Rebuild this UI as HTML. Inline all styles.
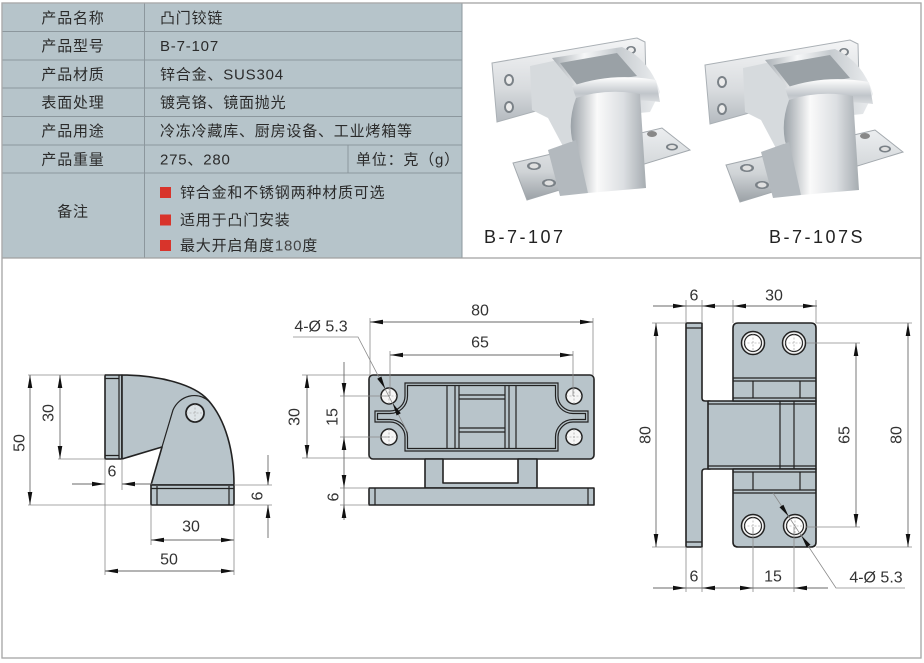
<!DOCTYPE html>
<html><head><meta charset="utf-8">
<style>
html,body{margin:0;padding:0;background:#fff;}
svg{display:block;}
.t{font-family:"Liberation Sans","Noto Sans CJK SC",sans-serif;fill:#2b2b2b;font-size:15px;letter-spacing:0.8px;}
.d{font-family:"Liberation Sans",sans-serif;fill:#333;font-size:16px;}
.ext{stroke:#8a8a8a;stroke-width:0.8;fill:none;}
.dim{stroke:#6a6a6a;stroke-width:0.9;fill:none;}
.ol{stroke:#222;stroke-width:1.6;fill:#b8c4ca;stroke-linejoin:round;}
.ln{stroke:#222;stroke-width:1.2;fill:none;}
.ar{fill:#111;}
.ch{stroke:#999;stroke-width:0.6;stroke-dasharray:2 1.5;fill:none;}
</style></head>
<body>
<svg width="924" height="663" viewBox="0 0 924 663" xmlns="http://www.w3.org/2000/svg">
<defs>
<linearGradient id="gPlate" x1="0" y1="0" x2="0" y2="1">
<stop offset="0" stop-color="#f4f5f6"/><stop offset="0.6" stop-color="#d8dbde"/><stop offset="1" stop-color="#b4babf"/>
</linearGradient>
<linearGradient id="gArch" x1="0" y1="0" x2="1" y2="0">
<stop offset="0" stop-color="#a9afb4"/><stop offset="0.3" stop-color="#f6f7f8"/><stop offset="0.6" stop-color="#c6cbcf"/><stop offset="1" stop-color="#eceef0"/>
</linearGradient>
<linearGradient id="gLeg" x1="0" y1="0" x2="1" y2="0">
<stop offset="0" stop-color="#9aa1a7"/><stop offset="0.35" stop-color="#fafafa"/><stop offset="0.7" stop-color="#dcdfe2"/><stop offset="1" stop-color="#a6acb1"/>
</linearGradient>
<linearGradient id="gBase" x1="0" y1="0" x2="0" y2="1">
<stop offset="0" stop-color="#eceef0"/><stop offset="0.6" stop-color="#d0d4d7"/><stop offset="1" stop-color="#9ba1a6"/>
</linearGradient>
<linearGradient id="gKn" x1="0" y1="0" x2="0" y2="1">
<stop offset="0" stop-color="#ffffff"/><stop offset="0.5" stop-color="#c0c5ca"/><stop offset="1" stop-color="#f2f3f4"/>
</linearGradient>
<g id="hinge">
  <polygon points="492,63 637,38 645,42 646,80 497,122" fill="url(#gPlate)" stroke="#aab0b5" stroke-width="1"/>
  <ellipse cx="509" cy="80" rx="5" ry="6" fill="#7a8187"/><ellipse cx="509" cy="80" rx="3" ry="4" fill="#ececec"/>
  <ellipse cx="509" cy="107" rx="5" ry="6" fill="#7a8187"/><ellipse cx="509" cy="107" rx="3" ry="4" fill="#ececec"/>
  <ellipse cx="631" cy="50" rx="5" ry="4" fill="#7a8187"/><ellipse cx="631" cy="50" rx="3" ry="2.5" fill="#eee"/>
  <polygon points="530,66 558,60 578,88 580,130 565,150 548,118 532,110" fill="#d6dadd"/>
  <path d="M552,58 L622,47 Q650,60 660,92 L650,112 L585,118 L575,86 Z" fill="url(#gArch)"/>
  <polygon points="560,63 617,53 637,76 578,86" fill="#9aa1a6"/>
  <polygon points="513,163 662,128 690,150 527,200" fill="url(#gBase)" stroke="#a3a9ae" stroke-width="1"/>
  <ellipse cx="534" cy="166" rx="7" ry="4" fill="#7a8187"/><ellipse cx="534" cy="166" rx="4.5" ry="2.5" fill="#e0e0e0"/>
  <ellipse cx="549" cy="183" rx="7" ry="4" fill="#7a8187"/><ellipse cx="549" cy="183" rx="4.5" ry="2.5" fill="#e0e0e0"/>
  <ellipse cx="652" cy="134" rx="5" ry="3" fill="#888"/>
  <ellipse cx="672" cy="147" rx="6" ry="3.5" fill="#7a8187"/><ellipse cx="672" cy="147" rx="4" ry="2" fill="#e0e0e0"/>
  <path d="M572,86 Q612,72 656,80 L660,102 Q618,96 580,110 Z" fill="url(#gKn)"/>
  <path d="M576,98 Q606,88 640,94 L646,188 L588,193 L575,150 Q566,125 576,98 Z" fill="url(#gLeg)"/>
  <path d="M548,150 L576,140 L588,193 L560,196 Z" fill="#b3b9be"/>
</g>
</defs>

<!-- outer frame -->
<rect x="2" y="3" width="919" height="655" fill="#fff" stroke="#a8a8a8" stroke-width="1.2"/>
<!-- table -->
<rect x="2" y="3" width="460" height="255" fill="#b6c4ca"/>
<g stroke="#8c979d" stroke-width="1">
<line x1="2" y1="31.5" x2="462" y2="31.5"/>
<line x1="2" y1="60" x2="462" y2="60"/>
<line x1="2" y1="88" x2="462" y2="88"/>
<line x1="2" y1="116.5" x2="462" y2="116.5"/>
<line x1="2" y1="145" x2="462" y2="145"/>
<line x1="2" y1="173" x2="462" y2="173"/>
<line x1="144.5" y1="3" x2="144.5" y2="258"/>
<line x1="348" y1="145" x2="348" y2="173"/>
<line x1="462" y1="3" x2="462" y2="258"/>
</g>
<line x1="2" y1="258" x2="921" y2="258" stroke="#a0a0a0" stroke-width="1.2"/>
<rect x="2" y="3" width="919" height="655" fill="none" stroke="#a8a8a8" stroke-width="1.2"/>

<g class="t">
<text x="73" y="23" text-anchor="middle">产品名称</text>
<text x="73" y="51" text-anchor="middle">产品型号</text>
<text x="73" y="79.5" text-anchor="middle">产品材质</text>
<text x="73" y="107.5" text-anchor="middle">表面处理</text>
<text x="73" y="136" text-anchor="middle">产品用途</text>
<text x="73" y="164.5" text-anchor="middle">产品重量</text>
<text x="73" y="216.5" text-anchor="middle">备注</text>
<text x="160" y="23">凸门铰链</text>
<text x="160" y="51">B-7-107</text>
<text x="160" y="79.5">锌合金、SUS304</text>
<text x="160" y="107.5">镀亮铬、镜面抛光</text>
<text x="160" y="136">冷冻冷藏库、厨房设备、工业烤箱等</text>
<text x="160" y="164.5">275、280</text>
<text x="356" y="164.5">单位：克（g）</text>
<text x="180" y="197.5">锌合金和不锈钢两种材质可选</text>
<text x="180" y="225">适用于凸门安装</text>
<text x="180" y="250.5">最大开启角度<tspan font-weight="300" fill="#444">180</tspan>度</text>
</g>
<rect x="160" y="187" width="11" height="11" fill="#d8342b"/>
<rect x="160" y="214.5" width="11" height="11" fill="#d8342b"/>
<rect x="160" y="240" width="11" height="11" fill="#d8342b"/>

<!-- photos -->
<use href="#hinge"/>
<g transform="translate(213,2)"><use href="#hinge"/></g>
<text x="484" y="243" font-family="Liberation Sans, sans-serif" font-size="18" letter-spacing="2.5" fill="#222">B-7-107</text>
<text x="769" y="243" font-family="Liberation Sans, sans-serif" font-size="18" letter-spacing="2.5" fill="#222">B-7-107S</text>

<!-- ============ LEFT DRAWING ============ -->
<rect x="105" y="375" width="17" height="84" class="ol"/>
<path class="ln" d="M119,375 V459 M105,378.5 H119 M105,455.5 H119"/>
<path class="ol" stroke-width="2" d="M122,375 C160,375 195,385 208,400 C226,420 234,452 234,485 L151,485 L162,447 L122,459 Z"/>
<path class="ln" stroke-width="2" d="M162,447 L173,410 C179,396 197,390 210,402"/>
<circle cx="195" cy="413" r="9" fill="#dfe5e8" stroke="#222" stroke-width="1.8"/>
<path class="ch" d="M186,413 H204 M195,404 V422"/>
<rect x="151" y="485" width="83" height="20" class="ol"/>
<path class="ln" d="M157,486 V505 M229,486 V505 M151,488.5 H234"/>

<path class="ext" d="M28,375 H105 M28,505 H151 M58,459 H105 M105,459 V575 M122,459 V490 M151,505 V545 M234,505 V575 M234,485 H272 M234,505 H272"/>
<path class="dim" d="M30,375 V505 M60,375 V459 M72,484 H105 M122,484 H152 M151,540 H234 M105,571 H234 M268,455 V485 M268,505 V538"/>
<g class="ar">
<polygon points="30,375 27.7,388 32.3,388"/><polygon points="30,505 27.7,492 32.3,492"/>
<polygon points="60,375 57.7,388 62.3,388"/><polygon points="60,459 57.7,446 62.3,446"/>
<polygon points="105,484 92,481.7 92,486.3"/><polygon points="122,484 135,481.7 135,486.3"/>
<polygon points="151,540 164,537.7 164,542.3"/><polygon points="234,540 221,537.7 221,542.3"/>
<polygon points="105,571 118,568.7 118,573.3"/><polygon points="234,571 221,568.7 221,573.3"/>
<polygon points="268,485 265.7,472 270.3,472"/><polygon points="268,505 265.7,518 270.3,518"/>
</g>
<g class="d" text-anchor="middle" dominant-baseline="central">
<text x="20" y="443" transform="rotate(-90 20 443)">50</text>
<text x="49" y="413" transform="rotate(-90 49 413)">30</text>
<text x="112" y="472">6</text>
<text x="258" y="496" transform="rotate(-90 258 496)">6</text>
<text x="191" y="527">30</text>
<text x="169" y="560">50</text>
</g>

<!-- ============ MIDDLE DRAWING ============ -->
<rect x="369" y="375" width="225" height="84" rx="4" class="ol"/>
<path class="ln" d="M405,383 H558 V396 A15,15 0 0 0 573,411 H588 V422 H573 A15,15 0 0 0 558,437 V451 H405 V437 A15,15 0 0 0 390,422 H375 V411 H390 A15,15 0 0 0 405,396 Z"/>
<path class="ln" d="M407.5,385.5 H555.5 V396 A17.5,17.5 0 0 0 573,413.5 H585.5 V419.5 H573 A17.5,17.5 0 0 0 555.5,437 V448.5 H407.5 V437 A17.5,17.5 0 0 0 390,419.5 H377.5 V413.5 H390 A17.5,17.5 0 0 0 407.5,396 Z"/>
<path class="ln" d="M447,385.5 V448.5 M455,385.5 V448.5 M459,385.5 V448.5 M505,385.5 V448.5 M509,385.5 V448.5 M516,385.5 V448.5 M459,395 H505 M459,399 H505 M459,428 H505 M459,432 H505"/>
<g fill="#f6f6f6" stroke="#222" stroke-width="1.5">
<circle cx="389" cy="396" r="8"/><circle cx="389" cy="437" r="8"/>
<circle cx="574" cy="396" r="8"/><circle cx="574" cy="437" r="8"/>
</g>
<path class="ch" d="M381,396 H397 M389,388 V404 M381,437 H397 M389,429 V445 M566,396 H582 M574,388 V404 M566,437 H582 M574,429 V445"/>
<path class="ol" d="M425,459 H443 V483 H518 V459 H537 V488 H425 Z"/>
<rect x="369" y="488" width="225" height="17" class="ol"/>
<path class="ln" d="M375,488 V505 M588,488 V505"/>

<path class="ext" d="M370,318 V375 M593,318 V375 M390,351 V396 M573,351 V396 M302,375 H370 M302,458 H370 M340,396 H389 M340,437 H389 M340,488 H369 M340,505 H369"/>
<path class="dim" d="M370,322 H593 M390,355 H573 M307,375 V458 M344,362 V520"/>
<path class="ext" d="M293,337 H358 L408,433"/>
<g class="ar">
<polygon points="370,322 383,319.7 383,324.3"/><polygon points="593,322 580,319.7 580,324.3"/>
<polygon points="390,355 403,352.7 403,357.3"/><polygon points="573,355 560,352.7 560,357.3"/>
<polygon points="307,375 304.7,388 309.3,388"/><polygon points="307,458 304.7,445 309.3,445"/>
<polygon points="344,396 341.7,383 346.3,383"/><polygon points="344,437 341.7,450 346.3,450"/>
<polygon points="344,488 341.7,475 346.3,475"/><polygon points="344,505 341.7,518 346.3,518"/>
<polygon points="385.3,388.9 377.2,378.7 381.4,376.5"/>
<polygon points="392.7,403.1 396.6,415.5 400.8,413.3"/>
</g>
<g class="d" text-anchor="middle" dominant-baseline="central">
<text x="480" y="311">80</text>
<text x="480" y="343">65</text>
<text x="321" y="327">4-Ø 5.3</text>
<text x="295" y="417" transform="rotate(-90 295 417)">30</text>
<text x="333" y="417" transform="rotate(-90 333 417)">15</text>
<text x="334" y="497" transform="rotate(-90 334 497)">6</text>
</g>

<!-- ============ RIGHT DRAWING ============ -->
<path class="ol" d="M686,323 H702 V398 Q702,401 705,401 H710 V469 H705 Q702,469 702,472 V547 H686 Z"/>
<path class="ln" d="M686,328 H702 M686,542 H702"/>
<rect x="708" y="401" width="108" height="68" class="ol"/>
<path class="ln" d="M780,401 V469 M794,401 V469 M708,404 H816 M708,466 H816"/>
<path class="ol" d="M738,323 H811 Q816,323 816,328 V401 H733 V328 Q733,323 738,323 Z"/>
<path class="ln" d="M733,378 H816 M733,381 H816 M733,398 H816 M753,381 V398 M800,381 V398"/>
<path class="ol" d="M733,469 H816 V542 Q816,547 811,547 H738 Q733,547 733,542 Z"/>
<path class="ln" d="M733,472 H816 M733,490 H816 M733,493 H816 M753,472 V490 M800,472 V490"/>
<g fill="#f2f2f2" stroke="#222" stroke-width="1.5">
<circle cx="753" cy="343" r="11.5"/><circle cx="794" cy="343" r="11.5"/>
<circle cx="753" cy="526" r="11.5"/><circle cx="795" cy="526" r="11.5"/>
</g>
<g fill="#fff" stroke="#222" stroke-width="1.2">
<circle cx="753" cy="343" r="8.5"/><circle cx="794" cy="343" r="8.5"/>
<circle cx="753" cy="526" r="8.5"/><circle cx="795" cy="526" r="8.5"/>
</g>
<path class="ch" d="M744,343 H762 M753,334 V352 M785,343 H803 M794,334 V352 M744,526 H762 M753,517 V535 M786,526 H804 M795,517 V535"/>

<path class="ext" d="M686,300 V323 M702,300 V323 M733,300 V323 M816,300 V323 M652,323 H686 M652,547 H686 M806,343 H860 M806,527 H860 M816,323 H912 M816,547 H912 M686,547 V592 M702,547 V592 M753,527 V592 M794,527 V592"/>
<path class="dim" d="M653,306 H817 M656,323 V547 M856,343 V527 M908,323 V547 M653,588 H828"/>
<path class="ext" d="M773,493 L836,588 H905"/>
<g class="ar">
<polygon points="686,306 673,303.7 673,308.3"/><polygon points="702,306 715,303.7 715,308.3"/>
<polygon points="733,306 746,303.7 746,308.3"/><polygon points="816,306 803,303.7 803,308.3"/>
<polygon points="656,323 653.7,336 658.3,336"/><polygon points="656,547 653.7,534 658.3,534"/>
<polygon points="856,343 853.7,356 858.3,356"/><polygon points="856,527 853.7,514 858.3,514"/>
<polygon points="908,323 905.7,336 910.3,336"/><polygon points="908,547 905.7,534 910.3,534"/>
<polygon points="686,588 673,585.7 673,590.3"/><polygon points="702,588 715,585.7 715,590.3"/>
<polygon points="753,588 740,585.7 740,590.3"/><polygon points="794,588 807,585.7 807,590.3"/>
<polygon points="788.6,516.4 779.5,507.3 783.4,504.7"/>
<polygon points="801.4,535.6 806.6,547.3 810.5,544.7"/>
</g>
<g class="d" text-anchor="middle" dominant-baseline="central">
<text x="694" y="296">6</text>
<text x="774" y="296">30</text>
<text x="646" y="435" transform="rotate(-90 646 435)">80</text>
<text x="845" y="435" transform="rotate(-90 845 435)">65</text>
<text x="897" y="435" transform="rotate(-90 897 435)">80</text>
<text x="694" y="577">6</text>
<text x="773" y="577">15</text>
<text x="876" y="578">4-Ø 5.3</text>
</g>
</svg>
</body></html>
